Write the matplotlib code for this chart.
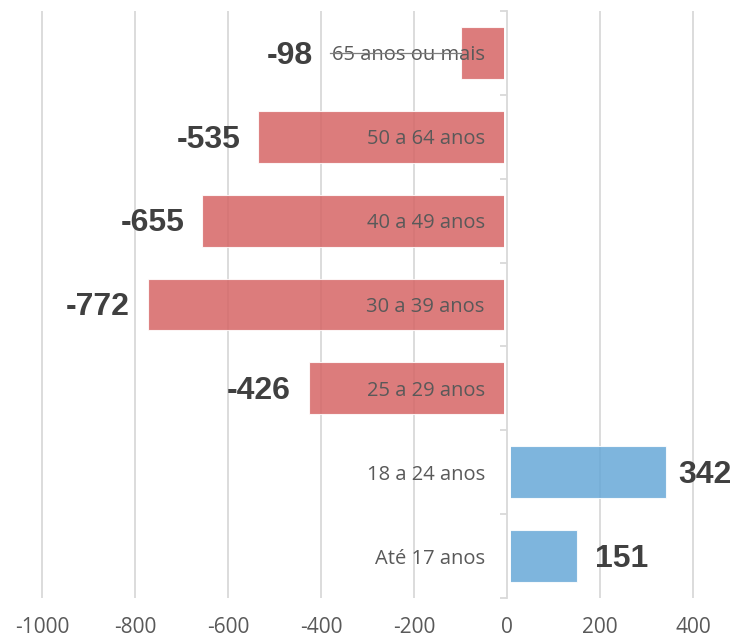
import matplotlib
matplotlib.use("Agg")
from matplotlib import pyplot as plt

# Data (top to bottom)
categories = ['65 anos ou mais', '50 a 64 anos', '40 a 49 anos', '30 a 39 anos',
              '25 a 29 anos', '18 a 24 anos', 'Até 17 anos']
values = [-98, -535, -655, -772, -426, 342, 151]
xticks = [-1000, -800, -600, -400, -200, 0, 200, 400]

red = (214/255, 101/255, 101/255)
blue = (103/255, 168/255, 215/255)
grid_gray = '#D9D9D9'
text_gray = '#595959'

fig = plt.figure(figsize=(7.35, 6.41), dpi=100)
ax = fig.add_axes([0, 43/641, 1, 587/641])

ypos = list(range(len(categories)))
colors = [red if v < 0 else blue for v in values]
ax.barh(ypos, values, height=0.62, color=colors, alpha=0.85,
        edgecolor='white', linewidth=0.8, zorder=2)

ax.set_xlim(-1090.3, 490.3)
ax.set_ylim(len(categories) - 0.5, -0.5)

# vertical gridlines
ax.set_xticks(xticks)
ax.set_xticklabels([str(t) for t in xticks], fontsize=15, color=text_gray,
                   family='Open Sans')
ax.tick_params(axis='x', length=0, pad=14)
ax.xaxis.grid(True, color=grid_gray, linewidth=1.3, zorder=1)
ax.set_axisbelow(True)

# category axis at zero
for s in ['top', 'right', 'bottom']:
    ax.spines[s].set_visible(False)
ax.spines['left'].set_position(('data', 0))
ax.spines['left'].set_color(grid_gray)
ax.spines['left'].set_linewidth(1.3)
ax.spines['left'].set_zorder(4)
ax.axvline(0, color='white', linewidth=5, zorder=3)

ax.set_yticks(ypos)
ax.set_yticklabels(categories, fontsize=14.5, color=text_gray, family='Open Sans')
ax.tick_params(axis='y', which='major', length=0, pad=16)
ax.set_yticks([y - 0.5 for y in ypos] + [len(categories) - 0.5], minor=True)
ax.tick_params(axis='y', which='minor', length=5, width=1.3, color=grid_gray, direction='out')
ax.yaxis.set_zorder(5)

# value labels
for y, v in zip(ypos, values):
    if v < 0:
        off = -13 if v != -98 else -107
        ha = 'right'
    else:
        off = 9 if v > 200 else 13
        ha = 'left'
    ax.annotate(str(v), xy=(v, y), xytext=(off, -2), textcoords='offset points',
                ha=ha, va='center', fontsize=23, fontweight='bold',
                color='#404040', family='Liberation Sans', zorder=6)

# leader line for the moved -98 label
ax.plot([-380, -98], [0, 0], color='#7f7f7f', linewidth=0.9, zorder=6)

fig.savefig('out.png', dpi=100)
